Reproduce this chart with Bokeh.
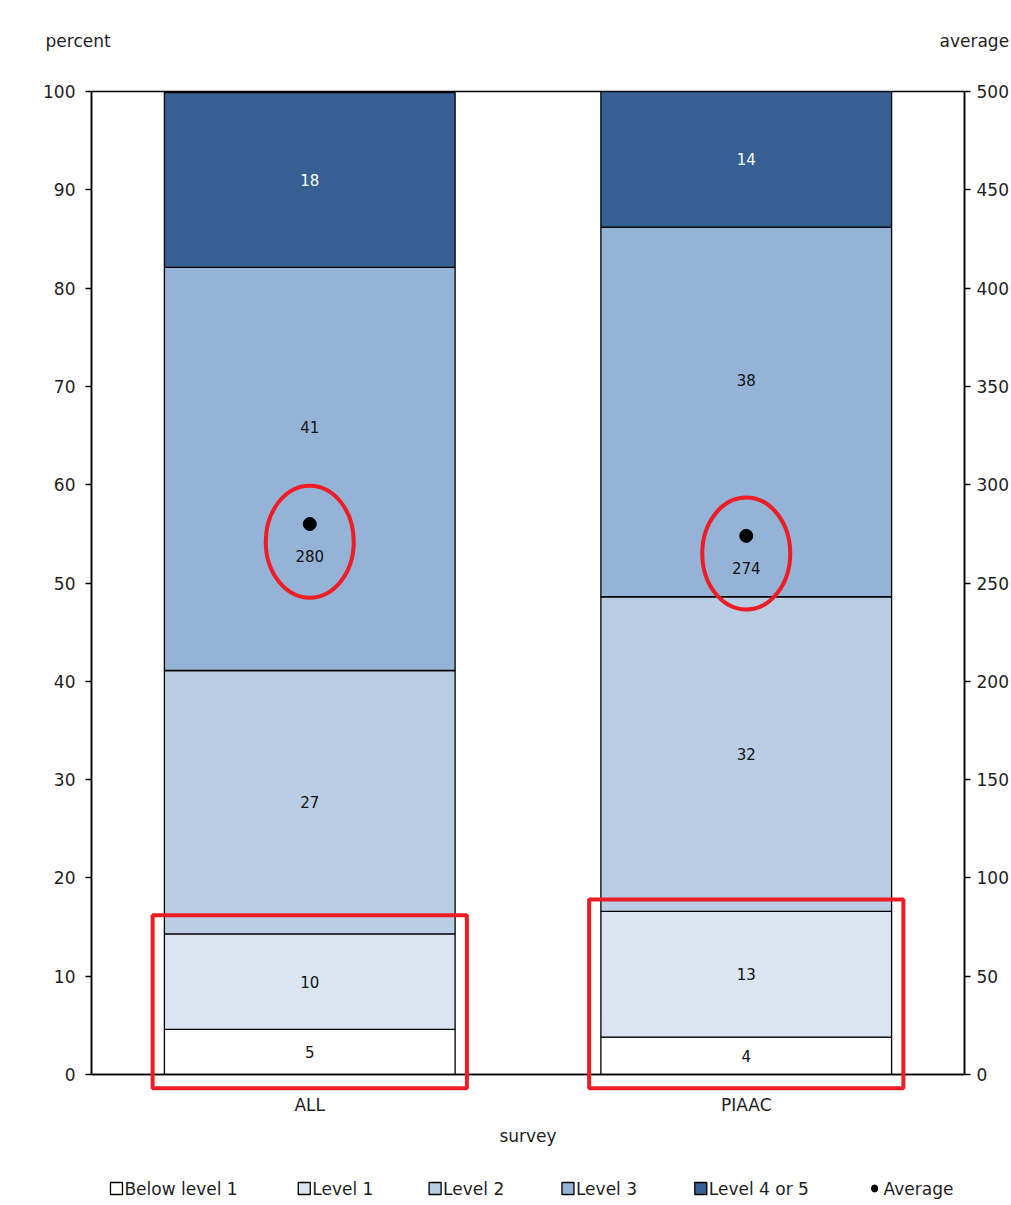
from bokeh.plotting import figure
from bokeh.models import (FactorRange, Range1d, LinearAxis, ColumnDataSource, FixedTicker)
from bokeh.core.properties import value
from bokeh.embed import file_html
from bokeh.resources import INLINE

# ---------------- data ----------------
surveys = ["ALL", "PIAAC"]
levels = ["Below level 1", "Level 1", "Level 2", "Level 3", "Level 4 or 5"]
below_level_1 = [4.6, 3.8]
level_1 = [9.7, 12.8]
level_2 = [26.8, 32.0]
level_3 = [41.0, 37.6]
level_4_or_5 = [17.8, 13.8]
averages = [280, 274]
level_3_label_shift = [4.3, 3.3]
highlight_pad = [1.9, 1.2]
percent_ticks = list(range(0, 101, 10))
average_ticks = list(range(0, 501, 50))

colors = ["#ffffff", "#dbe5f1", "#b9cde5", "#95b3d7", "#366092"]
label_colors = ["#111111", "#111111", "#111111", "#111111", "#ffffff"]
FONT = "DejaVu Sans"
TXT = "#1e1e1e"
RED = "#ee1c24"

series = [below_level_1, level_1, level_2, level_3, level_4_or_5]

# frame geometry (pixels)
W, H = 1011, 1205
FL, FR, FT, FB = 91, 965, 91, 1074

p = figure(x_range=FactorRange(factors=surveys), y_range=Range1d(0, 100),
           width=W, height=H, output_backend="svg", toolbar_location=None,
           min_border_left=FL, min_border_right=W - FR, min_border_top=FT,
           min_border_bottom=H - FB)
p.extra_y_ranges = {"avg": Range1d(0, 500)}
p.xgrid.grid_line_color = None
p.ygrid.grid_line_color = None
p.outline_line_color = "black"
p.outline_line_width = 1.5
p.background_fill_color = "white"
p.border_fill_color = "white"

# stacked bars
data = {"survey": surveys}
for name, vals in zip(levels, series):
    data[name] = vals
src = ColumnDataSource(data)
bars = p.vbar_stack(levels, x="survey", width=0.666, color=colors, line_color="black",
                    line_width=1.3, source=src)

# segment labels
bottom = [0.0, 0.0]
for i, vals in enumerate(series):
    mids = []
    for j, v in enumerate(vals):
        m = bottom[j] + v / 2
        if i == 3:
            m += level_3_label_shift[j]
        mids.append(m)
    p.text(x=surveys, y=mids, text=[str(round(v)) for v in vals],
           text_font=value(FONT), text_font_size="15px", text_color=label_colors[i],
           text_align="center", text_baseline="middle")
    bottom = [b + v for b, v in zip(bottom, vals)]

# averages
p.scatter(x=surveys, y=averages, y_range_name="avg", size=13, color="black")
p.text(x=surveys, y=averages, text=[str(a) for a in averages], y_range_name="avg",
       y_offset=32, text_font=value(FONT), text_font_size="15px", text_color="#111111",
       text_align="center", text_baseline="middle")

# red highlights
p.ellipse(x=surveys, y=[a - 9 for a in averages], width=88, height=112,
          width_units="screen", height_units="screen", fill_color=None,
          line_color=RED, line_width=4, y_range_name="avg", level="overlay")
cum_l1 = [a + b for a, b in zip(below_level_1, level_1)]
centers = [i + 0.5 for i in range(len(surveys))]
p.quad(left=[c - 0.36 for c in centers], right=[c + 0.36 for c in centers],
       bottom=[-1.4] * len(surveys), top=[t + pd for t, pd in zip(cum_l1, highlight_pad)],
       fill_color=None, line_color=RED, line_width=4, level="overlay")

# axes
def style_axis(ax):
    ax.major_label_text_font = FONT
    ax.major_label_text_font_size = "17px"
    ax.major_label_text_color = TXT
    ax.axis_line_color = "black"
    ax.axis_line_width = 1.5
    ax.major_tick_line_color = "black"
    ax.major_tick_line_width = 1.5
    ax.minor_tick_line_color = None
    ax.major_tick_in = 0
    ax.major_tick_out = 6

yl = p.yaxis[0]
style_axis(yl)
yl.ticker = FixedTicker(ticks=percent_ticks)
yl.major_label_standoff = 10

yr = LinearAxis(y_range_name="avg", ticker=FixedTicker(ticks=average_ticks))
style_axis(yr)
yr.major_label_standoff = 6
p.add_layout(yr, "right")

xa = p.xaxis[0]
style_axis(xa)
xa.major_tick_line_color = None
xa.major_tick_out = 0
xa.major_label_standoff = 20
xa.axis_label = "survey"
xa.axis_label_text_font = FONT
xa.axis_label_text_font_size = "17px"
xa.axis_label_text_font_style = "normal"
xa.axis_label_text_color = TXT
xa.axis_label_standoff = 8

# helpers: pixel -> data coordinates (for texts outside the frame)
n = len(surveys)
def px_x(px):
    return (px - FL) / (FR - FL) * n
def px_y(py):
    return (FB - py) / (FB - FT) * 100.0

# axis titles on top (overlay text, not clipped)
p.text(x=[px_x(45)], y=[px_y(40)], text=["percent"], text_font=value(FONT),
       text_font_size="17px", text_color=TXT, text_align="left",
       text_baseline="middle", level="overlay")
p.text(x=[px_x(940)], y=[px_y(40)], text=["average"], text_font=value(FONT),
       text_font_size="17px", text_color=TXT, text_align="left",
       text_baseline="middle", level="overlay")

# manual legend below the axis
legend_labels = levels + ["Average"]
legend_px = [110, 298, 429, 562, 695, 870]
LEG_Y = 1188
sq_x = [px_x(px + 6) for px in legend_px[:-1]]
p.rect(x=sq_x, y=[px_y(LEG_Y)] * len(sq_x), width=12, height=12,
       width_units="screen", height_units="screen", fill_color=colors,
       line_color="black", line_width=1.3, level="overlay")
p.rect(x=[px_x(legend_px[-1] + 5)], y=[px_y(LEG_Y)], width=6, height=7,
       width_units="screen", height_units="screen", fill_color="black",
       line_color="black", border_radius=3, level="overlay")
txt_x = [px_x(px + 14) for px in legend_px]
p.text(x=txt_x, y=[px_y(LEG_Y)] * len(txt_x), text=legend_labels, text_font=value(FONT),
       text_font_size="17px", text_color=TXT, text_align="left",
       text_baseline="middle", level="overlay")

open("out.html", "w").write(file_html(p, INLINE))
